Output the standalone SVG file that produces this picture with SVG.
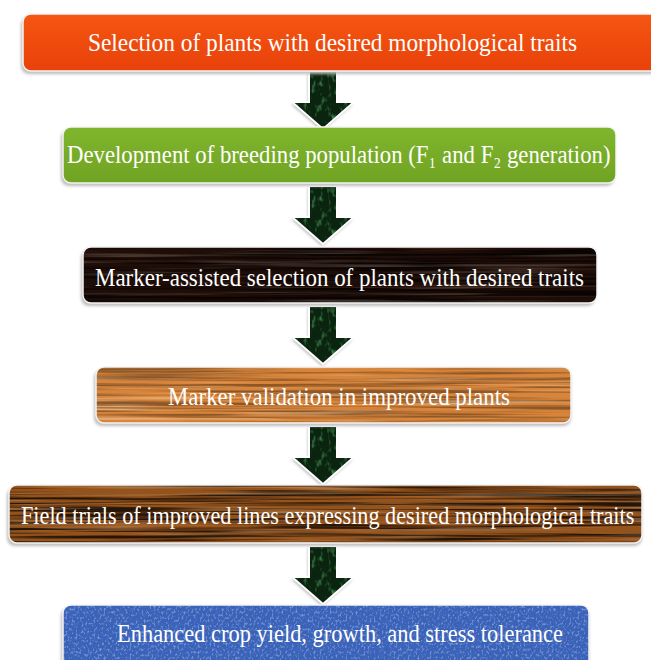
<svg xmlns="http://www.w3.org/2000/svg" width="651" height="660" viewBox="0 0 651 660">
<style>
.lbl{font-family:"Liberation Serif","DejaVu Serif","Times New Roman",serif;font-size:25px;fill:#ffffff}
.edge{fill:none;stroke:#f4f4f4;stroke-width:1.5}
.shadow{fill:#bdbdbd;filter:url(#blur)}
.arrowBase{fill:#0a2410}
.arrowOut{fill:none;stroke:#ffffff;stroke-width:2;stroke-linejoin:miter}
.arrowSh{fill:#b5b5b5;filter:url(#blur)}
</style>
<defs>
<linearGradient id="gRed" x1="0" y1="0" x2="0" y2="1">
<stop offset="0" stop-color="#f55611"/><stop offset="1" stop-color="#e8410a"/>
</linearGradient>
<linearGradient id="gGreen" x1="0" y1="0" x2="0" y2="1">
<stop offset="0" stop-color="#80b52e"/><stop offset="1" stop-color="#6fa322"/>
</linearGradient>
<filter id="blur" x="-5%" y="-20%" width="110%" height="140%"><feGaussianBlur stdDeviation="1.5"/></filter>
<filter id="grainDark" x="0" y="0" width="100%" height="100%">
<feTurbulence type="fractalNoise" baseFrequency="0.004 0.32" numOctaves="3" seed="4" result="n"/>
<feColorMatrix in="n" type="matrix" values="0 0 0 0 0  0 0 0 0 0  0 0 0 0 0  4 0 0 0 -1.7" result="a"/>
<feComposite in="a" in2="SourceGraphic" operator="in"/>
</filter>
<filter id="grainLight" x="0" y="0" width="100%" height="100%">
<feTurbulence type="fractalNoise" baseFrequency="0.005 0.28" numOctaves="3" seed="9" result="n"/>
<feColorMatrix in="n" type="matrix" values="0 0 0 0 1  0 0 0 0 0.85  0 0 0 0 0.65  0 4 0 0 -2.1" result="a"/>
<feComposite in="a" in2="SourceGraphic" operator="in"/>
</filter>
<filter id="fabric" x="0" y="0" width="100%" height="100%">
<feTurbulence type="fractalNoise" baseFrequency="0.5 0.35" numOctaves="2" seed="2" result="n"/>
<feColorMatrix in="n" type="matrix" values="0 0 0 0 0.7  0 0 0 0 0.8  0 0 0 0 1  3 0 0 0 -1.5" result="a"/>
<feComposite in="a" in2="SourceGraphic" operator="in"/>
</filter>
<filter id="speck" x="0" y="0" width="100%" height="100%">
<feTurbulence type="fractalNoise" baseFrequency="0.25 0.12" numOctaves="2" seed="5" result="n"/>
<feColorMatrix in="n" type="matrix" values="0 0 0 0 0.12  0 0 0 0 0.5  0 0 0 0 0.15  3 0 0 0 -1.6" result="a"/>
<feComposite in="a" in2="SourceGraphic" operator="in"/>
</filter>
<path id="arrow" d="M309,0 H337 V31 H354 L323,58 L292,31 H309 Z"/>
</defs>
<rect width="651" height="660" fill="#ffffff"/>

<g id="connectors">
<g id="arrow1" transform="translate(0,71)">
<use href="#arrow" class="arrowSh" transform="translate(-1,2)"/>
<use href="#arrow" class="arrowBase"/>
<use href="#arrow" fill="#000" filter="url(#speck)" opacity="0.6"/>
<use href="#arrow" class="arrowOut"/>
</g>
<g id="arrow2" transform="translate(0,186)">
<use href="#arrow" class="arrowSh" transform="translate(-1,2)"/>
<use href="#arrow" class="arrowBase"/>
<use href="#arrow" fill="#000" filter="url(#speck)" opacity="0.6"/>
<use href="#arrow" class="arrowOut"/>
</g>
<g id="arrow3" transform="translate(0,306)">
<use href="#arrow" class="arrowSh" transform="translate(-1,2)"/>
<use href="#arrow" class="arrowBase"/>
<use href="#arrow" fill="#000" filter="url(#speck)" opacity="0.6"/>
<use href="#arrow" class="arrowOut"/>
</g>
<g id="arrow4" transform="translate(0,426)">
<use href="#arrow" class="arrowSh" transform="translate(-1,2)"/>
<use href="#arrow" class="arrowBase"/>
<use href="#arrow" fill="#000" filter="url(#speck)" opacity="0.6"/>
<use href="#arrow" class="arrowOut"/>
</g>
<g id="arrow5" transform="translate(0,546)">
<use href="#arrow" class="arrowSh" transform="translate(-1,2)"/>
<use href="#arrow" class="arrowBase"/>
<use href="#arrow" fill="#000" filter="url(#speck)" opacity="0.6"/>
<use href="#arrow" class="arrowOut"/>
</g>
</g>

<g id="node1">
<rect class="shadow" x="21" y="17" width="640" height="57" rx="8"/>
<rect x="23" y="14" width="640" height="57" rx="8" fill="url(#gRed)"/>
<rect class="edge" x="23" y="14" width="640" height="57" rx="8"/>
<text class="lbl" x="88" y="51" textLength="489" lengthAdjust="spacingAndGlyphs">Selection of plants with desired morphological traits</text>
</g>

<g id="node2">
<rect class="shadow" x="61" y="130" width="553" height="56" rx="8"/>
<rect x="63" y="127" width="553" height="56" rx="8" fill="url(#gGreen)"/>
<rect class="edge" x="63" y="127" width="553" height="56" rx="8"/>
<text class="lbl" transform="translate(67,163) scale(0.86,1)" x="0" y="0" textLength="632" lengthAdjust="spacingAndGlyphs">Development of breeding population (F₁ and F₂ generation)</text>
</g>

<g id="node3">
<rect class="shadow" x="81" y="250" width="514" height="56" rx="8"/>
<rect x="83" y="247" width="514" height="56" rx="8" fill="#1f0d08"/>
<rect x="83" y="247" width="514" height="56" rx="8" fill="#000" filter="url(#grainDark)" opacity="0.7"/>
<rect x="83" y="247" width="514" height="56" rx="8" fill="#000" filter="url(#grainLight)" opacity="0.18"/>
<rect class="edge" x="83" y="247" width="514" height="56" rx="8"/>
<text class="lbl" x="95" y="286" textLength="489" lengthAdjust="spacingAndGlyphs">Marker-assisted selection of plants with desired traits</text>
</g>

<g id="node4">
<rect class="shadow" x="94" y="370" width="477" height="56" rx="8"/>
<rect x="96" y="367" width="475" height="56" rx="8" fill="#d8853b"/>
<rect x="96" y="367" width="475" height="56" rx="8" fill="#7a3a0a" filter="url(#grainDark)" opacity="0.35"/>
<rect x="96" y="367" width="475" height="56" rx="8" fill="#000" filter="url(#grainLight)" opacity="0.35"/>
<rect class="edge" x="96" y="367" width="475" height="56" rx="8"/>
<text class="lbl" x="168" y="405" textLength="342" lengthAdjust="spacingAndGlyphs">Marker validation in improved plants</text>
</g>

<g id="node5">
<rect class="shadow" x="7" y="488" width="635" height="58" rx="8"/>
<rect x="9" y="485" width="633" height="58" rx="8" fill="#95531c"/>
<rect x="9" y="485" width="633" height="58" rx="8" fill="#000" filter="url(#grainDark)" opacity="0.75"/>
<rect x="9" y="485" width="633" height="58" rx="8" fill="#000" filter="url(#grainLight)" opacity="0.25"/>
<rect class="edge" x="9" y="485" width="633" height="58" rx="8"/>
<text class="lbl" transform="translate(21,524) scale(0.82,1)" x="0" y="0" textLength="748" lengthAdjust="spacingAndGlyphs">Field trials of improved lines expressing desired morphological traits</text>
</g>

<g id="node6">
<rect class="shadow" x="61" y="608" width="528" height="62" rx="8"/>
<rect x="63" y="605" width="526" height="62" rx="8" fill="#3a62b8"/>
<rect x="63" y="605" width="526" height="62" rx="8" fill="#000" filter="url(#fabric)" opacity="0.45"/>
<rect class="edge" x="63" y="605" width="526" height="62" rx="8"/>
<text class="lbl" x="117" y="642" textLength="446" lengthAdjust="spacingAndGlyphs">Enhanced crop yield, growth, and stress tolerance</text>
</g>
</svg>
